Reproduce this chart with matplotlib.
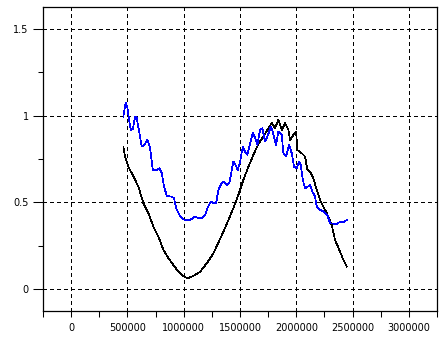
import matplotlib
matplotlib.use("Agg")
import matplotlib.pyplot as plt
from matplotlib.ticker import MultipleLocator, FixedLocator

# black series
black_x = [464500, 479600, 508900, 553300, 597700, 642100, 686500, 730900,
           775300, 819700, 864100, 908500, 952900, 997300, 1032900, 1086100,
           1145600, 1205100, 1263800, 1323300, 1382800, 1441400, 1485800,
           1530200, 1574600, 1619000, 1663400, 1707800, 1752200, 1782400,
           1811700, 1841000, 1871200, 1900500, 1929800, 1944900, 1974200,
           1998200, 2009800, 2048800, 2078200, 2098600, 2122600, 2151900,
           2182100, 2211400, 2240700, 2270900, 2315300, 2344600, 2389000,
           2418300, 2448500]
black_y = [0.818, 0.764, 0.706, 0.649, 0.591, 0.495, 0.438, 0.361,
           0.303, 0.226, 0.179, 0.140, 0.101, 0.077, 0.063, 0.077,
           0.101, 0.150, 0.207, 0.290, 0.376, 0.468, 0.543,
           0.630, 0.705, 0.774, 0.837, 0.879, 0.927, 0.956,
           0.927, 0.975, 0.918, 0.956, 0.918, 0.860, 0.889,
           0.908, 0.802, 0.783, 0.764, 0.687, 0.677, 0.639,
           0.572, 0.514, 0.476, 0.438, 0.370, 0.284, 0.217,
           0.169, 0.130]

# blue series
blue_x = [464500, 479600, 488500, 500000, 515100, 530200, 548000, 568400,
          583500, 606600, 627900, 651000, 677600, 701600, 725600, 761100,
          784200, 805500, 825900, 849900, 894300, 914700, 932500, 961800,
          983100, 1012400, 1050600, 1080800, 1101200, 1130500, 1160700,
          1190100, 1210500, 1240700, 1263800, 1287700, 1308200, 1338400,
          1358800, 1382800, 1405900, 1427200, 1441400, 1460900, 1480500,
          1500900, 1524900, 1545300, 1565700, 1589700, 1613700, 1634100,
          1654600, 1678500, 1699000, 1723000, 1749600, 1773600, 1794000,
          1820600, 1841000, 1871200, 1885500, 1909400, 1936100, 1960000,
          1980500, 2004500, 2024900, 2040000, 2057800, 2078200, 2102200,
          2122600, 2143000, 2167000, 2182100, 2211400, 2246900, 2276200,
          2300200, 2359700, 2389000, 2418300, 2448500]
blue_y = [0.994, 1.061, 1.071, 1.043, 0.975, 0.918, 0.922, 0.994,
          0.985, 0.899, 0.821, 0.831, 0.860, 0.812, 0.687, 0.687,
          0.697, 0.668, 0.591, 0.537, 0.533, 0.524, 0.467, 0.428,
          0.409, 0.399, 0.399, 0.409, 0.418, 0.409, 0.409,
          0.428, 0.467, 0.505, 0.495, 0.495, 0.572, 0.611,
          0.620, 0.601, 0.611, 0.687, 0.735, 0.716, 0.687,
          0.735, 0.821, 0.791, 0.774, 0.841, 0.899, 0.872,
          0.831, 0.918, 0.927, 0.850, 0.889, 0.937, 0.900,
          0.831, 0.908, 0.889, 0.783, 0.764, 0.831, 0.783,
          0.706, 0.697, 0.735, 0.716, 0.630, 0.582, 0.591,
          0.601, 0.562, 0.533, 0.476, 0.457, 0.447, 0.428,
          0.380, 0.376, 0.389, 0.384, 0.399]

x_ticks = [0, 500000, 1000000, 1500000, 2000000, 2500000, 3000000]
y_ticks = [0, 0.5, 1, 1.5]
y_tick_labels = ["0", "0.5", "1", "1.5"]

fig = plt.figure(figsize=(4.44, 3.40), dpi=100, facecolor="white")
ax = fig.add_axes([0.0968, 0.0853, 0.8874, 0.8941])

# aliased 1px lines, like the original screen plot
ax.plot(black_x, black_y, color="black", linewidth=0.5, antialiased=False, zorder=3)
ax.plot(blue_x, blue_y, color="#0000ff", linewidth=0.5, antialiased=False, zorder=3)

ax.set_xlim(-250000, 3250000)
ax.set_ylim(-0.125, 1.625)

ax.xaxis.set_major_locator(FixedLocator(x_ticks))
ax.set_xticklabels([str(v) for v in x_ticks])
ax.xaxis.set_minor_locator(MultipleLocator(250000))
ax.yaxis.set_major_locator(FixedLocator(y_ticks))
ax.set_yticklabels(y_tick_labels)
ax.yaxis.set_minor_locator(MultipleLocator(0.25))

ax.tick_params(axis="both", which="both", direction="out", width=0.75,
               labelsize=7, colors="black")
ax.tick_params(axis="y", which="major", length=7.2, pad=3)
ax.tick_params(axis="y", which="minor", length=3.6)
ax.tick_params(axis="x", which="major", length=4.3, pad=4)
ax.tick_params(axis="x", which="minor", length=4.3)

ax.grid(True, which="major", color="black", linewidth=0.75,
        linestyle=(0, (3, 3)), antialiased=False)
ax.set_axisbelow(True)

for sp in ax.spines.values():
    sp.set_linewidth(0.9)
    sp.set_color("black")

fig.savefig("out.png", dpi=100, facecolor="white")
